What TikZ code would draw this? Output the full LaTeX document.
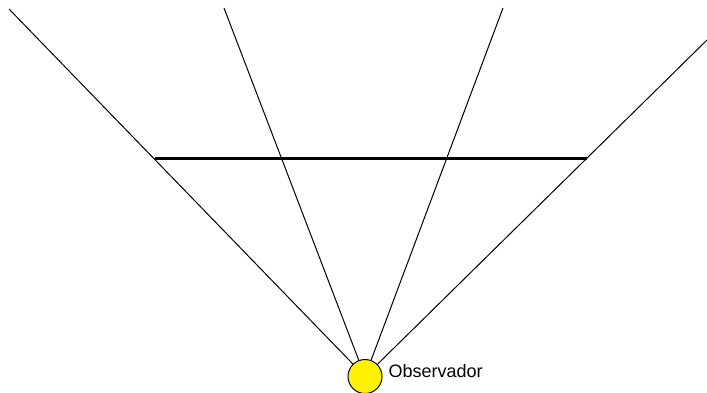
\documentclass[tikz,border=0pt]{standalone}
\usepackage{fontspec}
\setmainfont{Liberation Sans}
\usepackage{tikz}
\usetikzlibrary{positioning}

\begin{document}
\begin{tikzpicture}[x=1pt, y=-1pt, every node/.style={font=\fontsize{18}{22}\selectfont}]
  \useasboundingbox (0,0) rectangle (707,392);
  % observer and the ends of the sight lines
  \coordinate (o) at (365,376.5);
  \coordinate (r1) at (9,9);
  \coordinate (r2) at (224,8);
  \coordinate (r3) at (503,8);
  \coordinate (r4) at (707,40);
  \coordinate (h1) at (155,158.5);
  \coordinate (h2) at (587,158.5);
  \draw[line width=1pt] (o) -- (r1);
  \draw[line width=1pt] (o) -- (r2);
  \draw[line width=1pt] (o) -- (r3);
  \draw[line width=1pt] (o) -- (r4);
  \draw[line width=3pt] (h1) -- (h2);
  \node[draw, circle, fill=yellow, line width=1pt, minimum size=34pt, inner sep=0pt] (obs) at (o) {};
  \node[right=5.5pt of obs, yshift=5pt, inner sep=0.5pt] (lbl) {Observador};
\end{tikzpicture}
\end{document}
